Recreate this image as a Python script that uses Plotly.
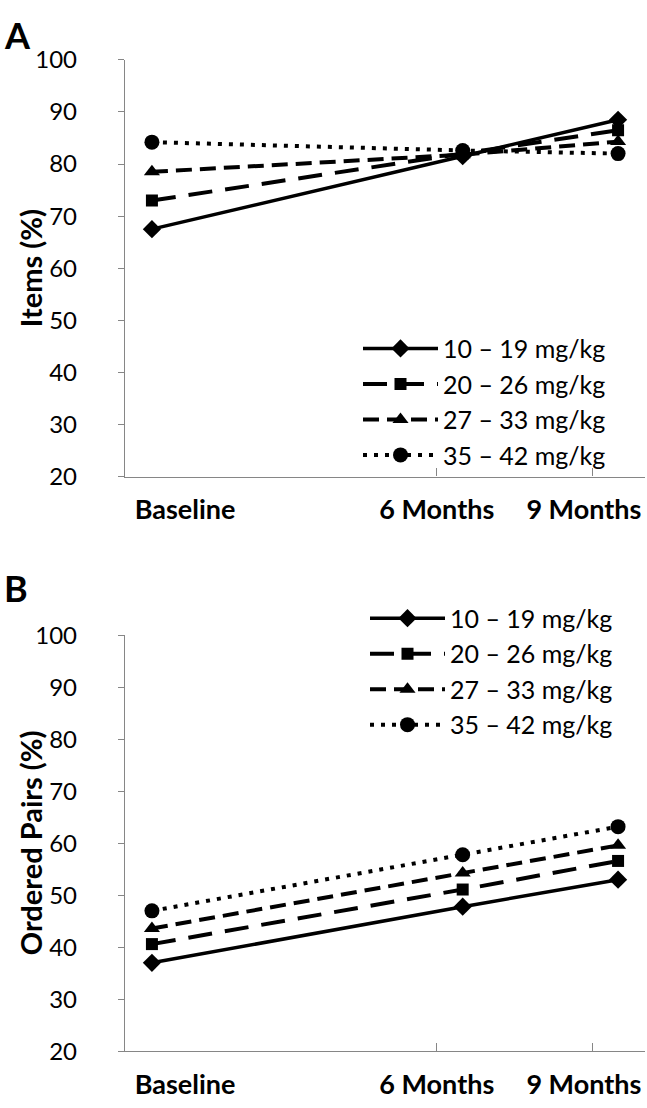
import plotly.graph_objects as go

# ---------------- data ----------------
categories = ["Baseline", "6 Months", "9 Months"]
months = [0, 6, 9]
series_names = ["10 – 19 mg/kg", "20 – 26 mg/kg", "27 – 33 mg/kg", "35 – 42 mg/kg"]

items_10_19 = [67.5, 81.5, 88.5]
items_20_26 = [73.0, 82.0, 86.5]
items_27_33 = [78.5, 81.8, 84.3]
items_35_42 = [84.2, 82.6, 82.0]

pairs_10_19 = [37.0, 47.8, 53.0]
pairs_20_26 = [40.6, 51.1, 56.6]
pairs_27_33 = [43.6, 54.3, 59.6]
pairs_35_42 = [47.0, 57.8, 63.2]

y_ticks = [20, 30, 40, 50, 60, 70, 80, 90, 100]

# ---------------- style ----------------
W, H = 647, 1108
FONT = "Lato"
GRAY = "#868686"
dashes = ["solid", "24px,13px", "16px,8px", "4px,7px"]
widths = [3.5, 4, 4, 4]
symbols = ["diamond", "square", "triangle-up", "circle"]
msizes = [14, 12, 14, 15]
cat_label_pos = [0.64, 5.5, 8.34]
minor_tick_pos = [5.5, 8.5]

xdom = [125 / W, 645 / W]
domA = [1 - 473 / H, 1 - 45 / H]
domB = [1 - 1063 / H, 1 - 636 / H]

fig = go.Figure()

panels = [
    ("x", "y", "legend", [items_10_19, items_20_26, items_27_33, items_35_42]),
    ("x2", "y2", "legend2", [pairs_10_19, pairs_20_26, pairs_27_33, pairs_35_42]),
]
for xa, ya, lg, data in panels:
    for i, vals in enumerate(data):
        fig.add_trace(go.Scatter(
            x=months, y=vals, name=series_names[i], mode="lines+markers",
            xaxis=xa, yaxis=ya, legend=lg,
            line=dict(color="black", width=widths[i], dash=dashes[i]),
            marker=dict(symbol=symbols[i], size=msizes[i], color="black"),
        ))

def xaxis_cfg(anchor):
    return dict(
        domain=xdom, anchor=anchor, range=[-0.52, 9.52],
        showline=True, linecolor=GRAY, linewidth=1.3,
        showgrid=False, zeroline=False,
        tickmode="array", tickvals=cat_label_pos,
        ticktext=[f"<b>{c}</b>" for c in categories],
        ticks="", ticklabelstandoff=9,
        tickfont=dict(family=FONT, size=27, color="black"),
        minor=dict(tickmode="array", tickvals=minor_tick_pos, ticks="inside",
                   ticklen=8, tickcolor=GRAY, tickwidth=1.3, showgrid=False),
    )

def yaxis_cfg(dom, anchor):
    return dict(
        domain=dom, anchor=anchor, range=[20, 100],
        showline=True, linecolor=GRAY, linewidth=1.3,
        showgrid=False, zeroline=False,
        tickmode="array", tickvals=y_ticks,
        ticks="outside", ticklen=6, tickcolor=GRAY, tickwidth=1.3,
        ticklabelstandoff=36,
        tickfont=dict(family=FONT, size=24, color="black"),
    )

legend_common = dict(
    bgcolor="rgba(0,0,0,0)", font=dict(family=FONT, size=25, color="black"),
    xanchor="left", yanchor="top", itemwidth=75,
)

fig.update_layout(
    width=W, height=H,
    margin=dict(l=0, r=0, t=0, b=0),
    paper_bgcolor="white", plot_bgcolor="white",
    xaxis=xaxis_cfg("y"),
    yaxis=yaxis_cfg(domA, "x"),
    xaxis2=xaxis_cfg("y2"),
    yaxis2=yaxis_cfg(domB, "x2"),
    legend=dict(x=358 / W, y=1 - 318 / H, **legend_common),
    legend2=dict(x=365 / W, y=1 - 595 / H, **legend_common),
    annotations=[
        dict(text="<b>A</b>", x=2 / W, y=1 - 20 / H, xref="paper", yref="paper",
             xanchor="left", yanchor="middle", showarrow=False,
             font=dict(family=FONT, size=36, color="black")),
        dict(text="<b>B</b>", x=2 / W, y=1 - 587 / H, xref="paper", yref="paper",
             xanchor="left", yanchor="middle", showarrow=False,
             font=dict(family=FONT, size=36, color="black")),
        dict(text="<b>Items (%)</b>", x=30 / W, y=sum(domA) / 2, xref="paper", yref="paper",
             xanchor="center", yanchor="middle", textangle=-90, showarrow=False,
             font=dict(family=FONT, size=29, color="black")),
        dict(text="<b>Ordered Pairs (%)</b>", x=30 / W, y=sum(domB) / 2, xref="paper", yref="paper",
             xanchor="center", yanchor="middle", textangle=-90, showarrow=False,
             font=dict(family=FONT, size=29, color="black")),
    ],
)

fig.write_html("out.html", config={"displayModeBar": False},
               post_script="document.body.style.margin='0';")
